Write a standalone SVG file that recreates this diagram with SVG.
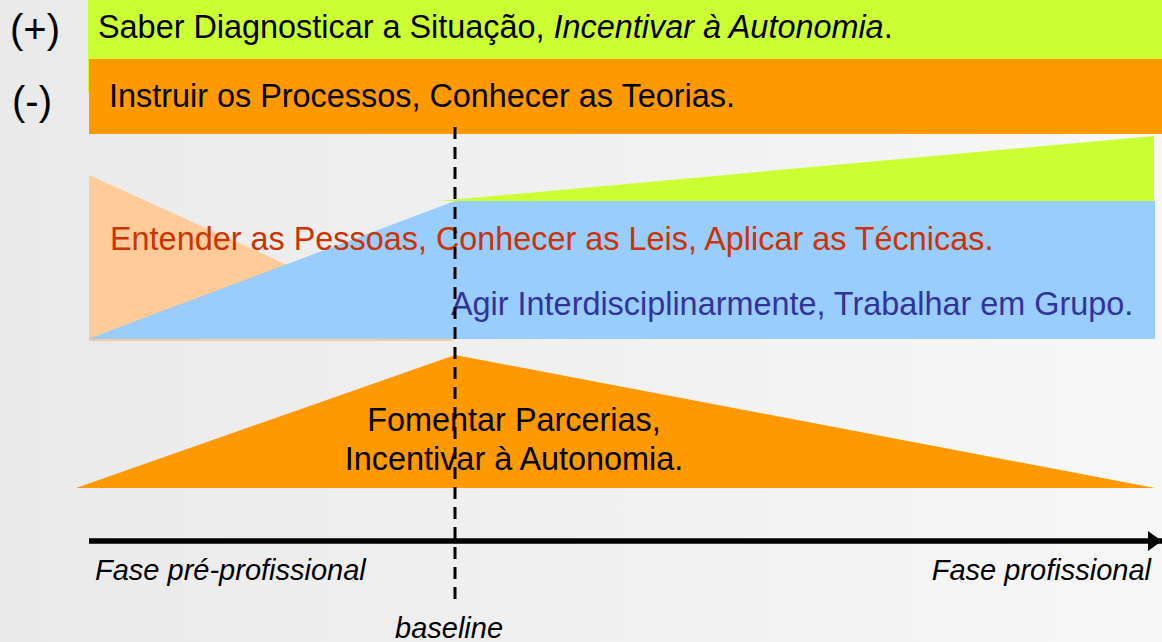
<svg xmlns="http://www.w3.org/2000/svg" width="1162" height="642" viewBox="0 0 1162 642">
  <defs>
    <linearGradient id="bg" x1="0" y1="0" x2="1" y2="0">
      <stop offset="0" stop-color="#eaeaea"/>
      <stop offset="1" stop-color="#f7f7f7"/>
    </linearGradient>
    <marker id="arrow" viewBox="0 0 14 20" refX="14" refY="10" markerWidth="14" markerHeight="20" markerUnits="userSpaceOnUse" orient="auto">
      <polygon points="0,0 14,10 0,20" fill="#000"/>
    </marker>
  </defs>
  <style>
    .t { font-family: "Liberation Sans", Arial, Helvetica, sans-serif; font-size: 32.4px; fill: #000; }
    .sign { font-size: 40px; }
    .it { font-style: italic; }
    .ax { font-size: 29px; font-style: italic; }
    .red { fill: #cc3300; }
    .navy { fill: #333399; }
  </style>
  <rect x="0" y="0" width="1162" height="642" fill="url(#bg)"/>

  <g id="band-plus">
    <rect x="88" y="0" width="1074" height="93" fill="#ccff33"/>
    <text class="t" x="98" y="38">Saber Diagnosticar a Situação, <tspan class="it">Incentivar à Autonomia</tspan>.</text>
  </g>
  <g id="band-minus">
    <rect x="89" y="59" width="1073" height="75" fill="#ff9900"/>
    <text class="t" x="109" y="107">Instruir os Processos, Conhecer as Teorias.</text>
  </g>
  <g id="sign-plus"><text class="t sign" x="10" y="43">(+)</text></g>
  <g id="sign-minus"><text class="t sign" x="12" y="115">(-)</text></g>

  <g id="peach-wedge">
    <polygon points="89,175 89,341 455,341" fill="#ffcc99"/>
  </g>
  <g id="green-wedge">
    <polygon points="438,201 1154,136 1154,201" fill="#ccff33"/>
  </g>
  <g id="blue-wedge">
    <polygon points="88,339 455,201 1155,201 1155,339" fill="#99ccff"/>
  </g>
  <g id="label-entender">
    <text class="t red" x="110" y="250">Entender as Pessoas, Conhecer as Leis, Aplicar as Técnicas.</text>
  </g>
  <g id="label-agir">
    <text class="t navy" x="451" y="315">Agir Interdisciplinarmente, Trabalhar em Grupo.</text>
  </g>

  <g id="orange-triangle">
    <polygon points="76,488 455,355 1155,488" fill="#ff9900"/>
    <text class="t" x="514" y="431" text-anchor="middle">Fomentar Parcerias,</text>
    <text class="t" x="514" y="470" text-anchor="middle">Incentivar à Autonomia.</text>
  </g>

  <g id="connectors">
    <line x1="89" y1="541" x2="1162" y2="541" stroke="#000" stroke-width="5.5" marker-end="url(#arrow)"/>
    <line x1="455" y1="127" x2="455" y2="607" stroke="#000" stroke-width="3" stroke-dasharray="12,8"/>
  </g>

  <g id="axis-labels">
    <text class="t ax" x="95" y="580">Fase pré-profissional</text>
    <text class="t ax" x="1151" y="580" text-anchor="end">Fase profissional</text>
    <text class="t ax" x="395" y="638">baseline</text>
  </g>
</svg>
